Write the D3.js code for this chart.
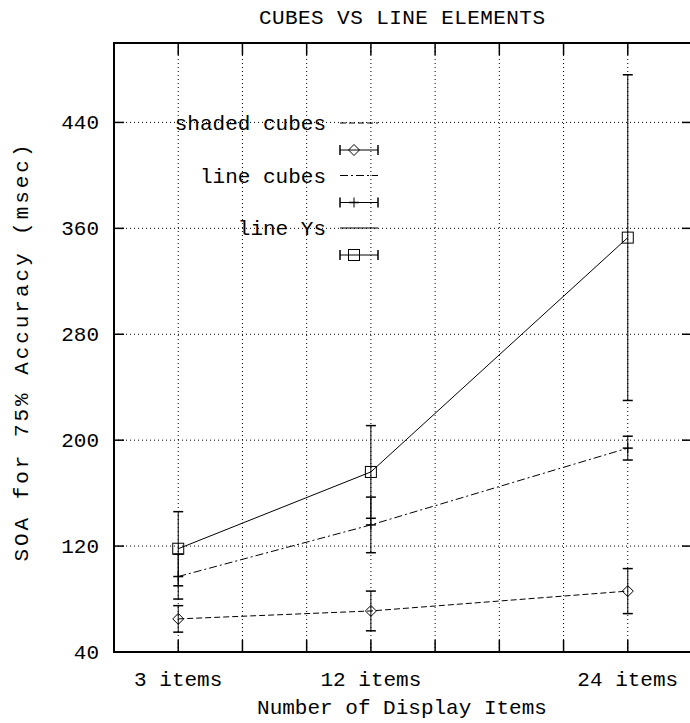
<!DOCTYPE html>
<html>
<head>
<meta charset="utf-8">
<script src="https://cdn.jsdelivr.net/npm/d3@7"></script>
<style>
  body { margin: 0; background: #fff; }
  text { font-family: 'Liberation Mono', 'DejaVu Sans Mono', monospace; font-size: 21px; fill: #000; }
</style>
</head>
<body>
<div id="chart"></div>
<script>
// values
var categories = ['3 items', '12 items', '24 items'];
var itemCounts = [3, 12, 24];
var seriesNames = ['shaded cubes', 'line cubes', 'line Ys'];
var shadedCubes = [65, 71, 86];
var shadedCubesErr = [10, 15, 17];
var lineCubes = [97, 136, 194];
var lineCubesErr = [17, 21, 9];
var lineYs = [118, 176, 353];
var lineYsErr = [28, 35, 123];
var yTicks = [40, 120, 200, 280, 360, 440];
var xTicks = [3, 6, 9, 12, 15, 18, 21, 24];

var width = 690, height = 723;
var plotLeft = 114, plotRight = 692, plotTop = 43, plotBottom = 652;

var svg = d3.select('#chart').append('svg')
  .attr('width', width)
  .attr('height', height);

var x = d3.scaleLinear().domain([0, 27]).range([plotLeft, plotRight]);
var y = d3.scaleLinear().domain([40, 500]).range([plotBottom, plotTop]);

// dotted grid
var grid = svg.append('g').attr('class', 'grid')
  .attr('stroke', '#000')
  .attr('stroke-width', 1)
  .attr('stroke-dasharray', '1,3');
grid.selectAll('line.gx')
  .data(xTicks)
  .enter().append('line')
  .attr('x1', d => x(d)).attr('x2', d => x(d))
  .attr('y1', plotTop).attr('y2', plotBottom);
grid.selectAll('line.gy')
  .data(yTicks.filter(d => d > 40))
  .enter().append('line')
  .attr('x1', plotLeft).attr('x2', plotRight)
  .attr('y1', d => y(d)).attr('y2', d => y(d));

var series = [
  { name: seriesNames[0], values: shadedCubes, err: shadedCubesErr, dash: '6,3', marker: 'diamond' },
  { name: seriesNames[1], values: lineCubes, err: lineCubesErr, dash: '8,3,2,3', marker: 'plus' },
  { name: seriesNames[2], values: lineYs, err: lineYsErr, dash: null, marker: 'square' }
];

var line = d3.line()
  .x((d, i) => x(itemCounts[i]))
  .y(d => y(d));

var drawMarker = function(g, type, cx, cy) {
  if (type == 'diamond') {
    g.append('path')
      .attr('d', 'M' + cx + ',' + (cy - 5.5) + 'L' + (cx + 5.5) + ',' + cy + 'L' + cx + ',' + (cy + 5.5) + 'L' + (cx - 5.5) + ',' + cy + 'Z')
      .attr('fill', 'none').attr('stroke', '#000').attr('stroke-width', 1);
  } else if (type == 'square') {
    g.append('rect')
      .attr('x', cx - 5.5).attr('y', cy - 5.5)
      .attr('width', 11).attr('height', 11)
      .attr('fill', 'none').attr('stroke', '#000').attr('stroke-width', 1);
  } else {
    g.append('line')
      .attr('x1', cx - 5).attr('x2', cx + 5)
      .attr('y1', cy).attr('y2', cy)
      .attr('stroke', '#000').attr('stroke-width', 1.5);
    g.append('line')
      .attr('x1', cx).attr('x2', cx)
      .attr('y1', cy - 5).attr('y2', cy + 5)
      .attr('stroke', '#000').attr('stroke-width', 1);
  }
};

series.forEach(function(s) {
  var g = svg.append('g').attr('class', 'series');
  g.append('path')
    .datum(s.values)
    .attr('d', line)
    .attr('fill', 'none')
    .attr('stroke', '#000')
    .attr('stroke-width', 1)
    .attr('stroke-dasharray', s.dash);

  s.values.forEach(function(v, i) {
    var cx = x(itemCounts[i]);
    var lo = y(v - s.err[i]), hi = y(v + s.err[i]);
    g.append('line')
      .attr('x1', cx).attr('x2', cx)
      .attr('y1', lo).attr('y2', hi)
      .attr('stroke', '#000').attr('stroke-width', 1);
    [lo, hi].forEach(function(cy) {
      g.append('line')
        .attr('x1', cx - 5).attr('x2', cx + 5)
        .attr('y1', cy).attr('y2', cy)
        .attr('stroke', '#000').attr('stroke-width', 1.5);
    });
    drawMarker(g, s.marker, cx, y(v));
  });
});

// legend, gnuplot style
var legend = svg.append('g').attr('class', 'legend');
series.forEach(function(s, i) {
  var ly = 123 + i * 52.5;
  var ey = ly + 27;
  legend.append('text')
    .attr('x', 326).attr('y', ly + 7)
    .attr('text-anchor', 'end')
    .text(s.name);
  legend.append('line')
    .attr('x1', 340).attr('x2', 378)
    .attr('y1', ly).attr('y2', ly)
    .attr('stroke', '#000').attr('stroke-width', 1)
    .attr('stroke-dasharray', s.dash);
  legend.append('line')
    .attr('x1', 340).attr('x2', 378)
    .attr('y1', ey).attr('y2', ey)
    .attr('stroke', '#000').attr('stroke-width', 1);
  [340, 378].forEach(function(cx) {
    legend.append('line')
      .attr('x1', cx).attr('x2', cx)
      .attr('y1', ey - 5).attr('y2', ey + 5)
      .attr('stroke', '#000').attr('stroke-width', 1.5);
  });
  drawMarker(legend, s.marker, 354, ey);
});

// frame and ticks
var axes = svg.append('g').attr('class', 'axes');
axes.append('rect')
  .attr('x', plotLeft).attr('y', plotTop)
  .attr('width', plotRight - plotLeft).attr('height', plotBottom - plotTop)
  .attr('fill', 'none').attr('stroke', '#000').attr('stroke-width', 2);

axes.selectAll('line.xt')
  .data(xTicks)
  .enter().append('line')
  .attr('x1', d => x(d)).attr('x2', d => x(d))
  .attr('y1', plotBottom).attr('y2', plotBottom - 12)
  .attr('stroke', '#000').attr('stroke-width', 1.5);
axes.selectAll('line.xtt')
  .data(xTicks)
  .enter().append('line')
  .attr('x1', d => x(d)).attr('x2', d => x(d))
  .attr('y1', plotTop).attr('y2', plotTop + 12)
  .attr('stroke', '#000').attr('stroke-width', 1.5);
axes.selectAll('line.yt')
  .data(yTicks)
  .enter().append('line')
  .attr('x1', plotLeft).attr('x2', plotLeft + 10)
  .attr('y1', d => y(d)).attr('y2', d => y(d))
  .attr('stroke', '#000').attr('stroke-width', 1.5);
axes.selectAll('line.ytr')
  .data(yTicks)
  .enter().append('line')
  .attr('x1', plotRight - 10).attr('x2', plotRight)
  .attr('y1', d => y(d)).attr('y2', d => y(d))
  .attr('stroke', '#000').attr('stroke-width', 1.5);

// tick labels
axes.selectAll('text.yl')
  .data(yTicks)
  .enter().append('text')
  .attr('x', 99)
  .attr('y', d => y(d) + 7)
  .attr('text-anchor', 'end')
  .text(d => d);
axes.selectAll('text.xl')
  .data(categories)
  .enter().append('text')
  .attr('x', (d, i) => x(itemCounts[i]))
  .attr('y', 686)
  .attr('text-anchor', 'middle')
  .text(d => d);

// titles
svg.append('text')
  .attr('x', 402).attr('y', 24)
  .attr('text-anchor', 'middle')
  .attr('textLength', 286)
  .text('CUBES VS LINE ELEMENTS');
svg.append('text')
  .attr('x', 402).attr('y', 714)
  .attr('text-anchor', 'middle')
  .text('Number of Display Items');
svg.append('text')
  .attr('transform', 'translate(28, 353) rotate(-90)')
  .attr('text-anchor', 'middle')
  .attr('textLength', 417)
  .attr('lengthAdjust', 'spacing')
  .text('SOA for 75% Accuracy (msec)');
</script>
</body>
</html>
